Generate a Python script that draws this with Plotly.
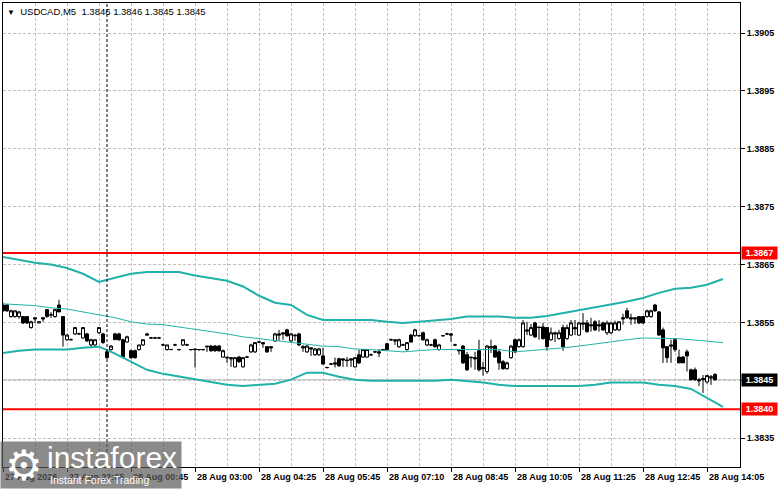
import plotly.graph_objects as go

# USDCAD M5 bars (bar index = position on chart)
opens = [
    1.38580, 1.38580, 1.38560, 1.38560, 1.38560, 1.38560, 1.38560, 1.38541, 1.38558, 1.38549,
    1.38558, 1.38572, 1.38563, 1.38560, 1.38580, 1.38560, 1.38520, 1.38520, 1.38530, 1.38530,
    1.38523, 1.38530, 1.38511, 1.38511, 1.38532, 1.38530, 1.38499, 1.38503, 1.38530, 1.38530,
    1.38520, 1.38516, 1.38501, 1.38501, 1.38503, 1.38511, 1.38530, 1.38523, 1.38523, 1.38523,
    1.38511, 1.38503, 1.38503, 1.38511, 1.38503, 1.38511, 1.38511, 1.38503, 1.38504, 1.38503,
    1.38503, 1.38509, 1.38509, 1.38509, 1.38509, 1.38490, 1.38490, 1.38489, 1.38473, 1.38490,
    1.38473, 1.38490, 1.38499, 1.38499, 1.38516, 1.38515, 1.38508, 1.38508, 1.38518, 1.38530,
    1.38532, 1.38537, 1.38518, 1.38528, 1.38530, 1.38508, 1.38499, 1.38506, 1.38494, 1.38494,
    1.38492, 1.38472, 1.38478, 1.38480, 1.38487, 1.38487, 1.38485, 1.38487, 1.38473, 1.38494,
    1.38490, 1.38490, 1.38494, 1.38499, 1.38499, 1.38503, 1.38513, 1.38520, 1.38520, 1.38508,
    1.38511, 1.38503, 1.38528, 1.38527, 1.38527, 1.38532, 1.38511, 1.38511, 1.38520, 1.38503,
    1.38527, 1.38530, 1.38530, 1.38511, 1.38503, 1.38509, 1.38494, 1.38490, 1.38489, 1.38501,
    1.38472, 1.38465, 1.38506, 1.38509, 1.38499, 1.38482, 1.38470, 1.38489, 1.38520, 1.38508,
    1.38508, 1.38537, 1.38528, 1.38549, 1.38542, 1.38542, 1.38541, 1.38520, 1.38532, 1.38522,
    1.38541, 1.38522, 1.38528, 1.38541, 1.38528, 1.38549, 1.38549, 1.38546, 1.38551, 1.38546,
    1.38549, 1.38532, 1.38532, 1.38537, 1.38537, 1.38558, 1.38570, 1.38558, 1.38558, 1.38560,
    1.38560, 1.38560, 1.38560, 1.38580, 1.38568, 1.38537, 1.38508, 1.38511, 1.38520, 1.38490,
    1.38490, 1.38499, 1.38468, 1.38468, 1.38451, 1.38453, 1.38447, 1.38456, 1.38460,
]
highs = [
    1.38584, 1.38582, 1.38572, 1.38570, 1.38570, 1.38561, 1.38560, 1.38553, 1.38558, 1.38551,
    1.38558, 1.38572, 1.38568, 1.38573, 1.38589, 1.38561, 1.38530, 1.38522, 1.38542, 1.38532,
    1.38542, 1.38532, 1.38522, 1.38520, 1.38542, 1.38532, 1.38503, 1.38511, 1.38532, 1.38532,
    1.38522, 1.38527, 1.38503, 1.38503, 1.38511, 1.38520, 1.38532, 1.38525, 1.38525, 1.38525,
    1.38513, 1.38511, 1.38504, 1.38513, 1.38504, 1.38520, 1.38513, 1.38504, 1.38504, 1.38504,
    1.38504, 1.38509, 1.38511, 1.38511, 1.38511, 1.38503, 1.38490, 1.38489, 1.38490, 1.38492,
    1.38490, 1.38492, 1.38513, 1.38516, 1.38518, 1.38515, 1.38509, 1.38508, 1.38532, 1.38537,
    1.38532, 1.38539, 1.38532, 1.38530, 1.38532, 1.38511, 1.38511, 1.38506, 1.38506, 1.38506,
    1.38506, 1.38473, 1.38480, 1.38489, 1.38489, 1.38487, 1.38490, 1.38487, 1.38490, 1.38503,
    1.38503, 1.38503, 1.38496, 1.38501, 1.38504, 1.38504, 1.38515, 1.38522, 1.38520, 1.38522,
    1.38513, 1.38516, 1.38530, 1.38539, 1.38528, 1.38534, 1.38522, 1.38513, 1.38522, 1.38513,
    1.38528, 1.38532, 1.38532, 1.38513, 1.38503, 1.38511, 1.38499, 1.38490, 1.38499, 1.38520,
    1.38482, 1.38511, 1.38520, 1.38511, 1.38503, 1.38485, 1.38482, 1.38511, 1.38522, 1.38522,
    1.38554, 1.38551, 1.38547, 1.38551, 1.38542, 1.38549, 1.38542, 1.38541, 1.38534, 1.38537,
    1.38546, 1.38546, 1.38554, 1.38554, 1.38551, 1.38566, 1.38554, 1.38558, 1.38554, 1.38554,
    1.38551, 1.38553, 1.38551, 1.38553, 1.38551, 1.38565, 1.38575, 1.38565, 1.38558, 1.38561,
    1.38561, 1.38572, 1.38572, 1.38582, 1.38570, 1.38541, 1.38509, 1.38520, 1.38523, 1.38503,
    1.38492, 1.38503, 1.38470, 1.38472, 1.38454, 1.38459, 1.38459, 1.38459, 1.38462,
]
lows = [
    1.38568, 1.38568, 1.38558, 1.38558, 1.38556, 1.38547, 1.38547, 1.38539, 1.38549, 1.38549,
    1.38551, 1.38558, 1.38558, 1.38558, 1.38568, 1.38508, 1.38518, 1.38520, 1.38528, 1.38530,
    1.38522, 1.38516, 1.38506, 1.38509, 1.38530, 1.38513, 1.38487, 1.38501, 1.38520, 1.38518,
    1.38489, 1.38515, 1.38487, 1.38487, 1.38501, 1.38509, 1.38528, 1.38522, 1.38522, 1.38522,
    1.38509, 1.38501, 1.38503, 1.38509, 1.38501, 1.38509, 1.38509, 1.38501, 1.38472, 1.38501,
    1.38501, 1.38499, 1.38499, 1.38499, 1.38499, 1.38489, 1.38480, 1.38473, 1.38472, 1.38480,
    1.38472, 1.38489, 1.38497, 1.38497, 1.38515, 1.38506, 1.38497, 1.38499, 1.38516, 1.38518,
    1.38520, 1.38525, 1.38516, 1.38518, 1.38509, 1.38499, 1.38497, 1.38492, 1.38492, 1.38492,
    1.38477, 1.38470, 1.38477, 1.38472, 1.38473, 1.38473, 1.38473, 1.38473, 1.38472, 1.38478,
    1.38489, 1.38489, 1.38492, 1.38497, 1.38490, 1.38501, 1.38501, 1.38518, 1.38511, 1.38506,
    1.38509, 1.38501, 1.38515, 1.38525, 1.38525, 1.38518, 1.38509, 1.38509, 1.38506, 1.38501,
    1.38525, 1.38528, 1.38516, 1.38509, 1.38494, 1.38478, 1.38466, 1.38472, 1.38468, 1.38465,
    1.38458, 1.38461, 1.38497, 1.38489, 1.38468, 1.38468, 1.38468, 1.38487, 1.38497, 1.38506,
    1.38506, 1.38528, 1.38527, 1.38523, 1.38520, 1.38520, 1.38501, 1.38518, 1.38516, 1.38520,
    1.38501, 1.38520, 1.38527, 1.38528, 1.38527, 1.38537, 1.38532, 1.38534, 1.38535, 1.38534,
    1.38535, 1.38528, 1.38530, 1.38535, 1.38535, 1.38546, 1.38556, 1.38546, 1.38547, 1.38547,
    1.38547, 1.38558, 1.38558, 1.38568, 1.38527, 1.38480, 1.38480, 1.38480, 1.38499, 1.38480,
    1.38480, 1.38465, 1.38449, 1.38449, 1.38440, 1.38428, 1.38444, 1.38442, 1.38449,
]
closes = [
    1.38570, 1.38570, 1.38570, 1.38570, 1.38568, 1.38549, 1.38549, 1.38551, 1.38556, 1.38551,
    1.38556, 1.38560, 1.38563, 1.38572, 1.38568, 1.38528, 1.38528, 1.38520, 1.38541, 1.38530,
    1.38541, 1.38518, 1.38520, 1.38520, 1.38541, 1.38515, 1.38489, 1.38509, 1.38520, 1.38520,
    1.38490, 1.38525, 1.38489, 1.38489, 1.38511, 1.38520, 1.38528, 1.38523, 1.38523, 1.38523,
    1.38511, 1.38511, 1.38503, 1.38511, 1.38503, 1.38520, 1.38511, 1.38503, 1.38503, 1.38503,
    1.38503, 1.38508, 1.38501, 1.38501, 1.38501, 1.38501, 1.38489, 1.38487, 1.38489, 1.38482,
    1.38489, 1.38490, 1.38511, 1.38515, 1.38516, 1.38513, 1.38499, 1.38506, 1.38530, 1.38528,
    1.38530, 1.38527, 1.38530, 1.38527, 1.38511, 1.38506, 1.38509, 1.38504, 1.38504, 1.38504,
    1.38478, 1.38472, 1.38478, 1.38478, 1.38475, 1.38485, 1.38484, 1.38485, 1.38489, 1.38480,
    1.38503, 1.38503, 1.38494, 1.38499, 1.38497, 1.38503, 1.38503, 1.38520, 1.38518, 1.38520,
    1.38511, 1.38515, 1.38516, 1.38537, 1.38527, 1.38520, 1.38520, 1.38511, 1.38508, 1.38511,
    1.38527, 1.38530, 1.38528, 1.38511, 1.38501, 1.38480, 1.38468, 1.38489, 1.38487, 1.38468,
    1.38470, 1.38509, 1.38508, 1.38490, 1.38480, 1.38470, 1.38480, 1.38509, 1.38499, 1.38520,
    1.38549, 1.38535, 1.38541, 1.38525, 1.38541, 1.38522, 1.38508, 1.38532, 1.38530, 1.38532,
    1.38508, 1.38541, 1.38549, 1.38539, 1.38549, 1.38547, 1.38534, 1.38544, 1.38537, 1.38544,
    1.38537, 1.38549, 1.38549, 1.38549, 1.38551, 1.38556, 1.38558, 1.38556, 1.38556, 1.38549,
    1.38549, 1.38570, 1.38570, 1.38570, 1.38528, 1.38506, 1.38489, 1.38509, 1.38503, 1.38480,
    1.38480, 1.38492, 1.38451, 1.38451, 1.38449, 1.38451, 1.38458, 1.38454, 1.38451,
]
bars = list(range(len(closes)))

# Bollinger bands, sampled every 4 bars
band_bars = list(range(0, 181, 4))
upper_band = [
    1.38663, 1.38658, 1.38653, 1.38650, 1.38644, 1.38634, 1.38620, 1.38627, 1.38634, 1.38637,
    1.38637, 1.38637, 1.38631, 1.38627, 1.38622, 1.38612, 1.38596, 1.38584, 1.38580, 1.38563,
    1.38554, 1.38554, 1.38554, 1.38554, 1.38551, 1.38549, 1.38551, 1.38553, 1.38556, 1.38560,
    1.38560, 1.38560, 1.38558, 1.38558, 1.38561, 1.38566, 1.38570, 1.38575, 1.38580, 1.38586,
    1.38592, 1.38601, 1.38608, 1.38610, 1.38615, 1.38625,
]
middle_band = [
    1.38582, 1.38580, 1.38579, 1.38575, 1.38573, 1.38568, 1.38563, 1.38558, 1.38551, 1.38547,
    1.38546, 1.38542, 1.38539, 1.38535, 1.38530, 1.38525, 1.38522, 1.38518, 1.38515, 1.38513,
    1.38509, 1.38508, 1.38504, 1.38503, 1.38501, 1.38499, 1.38501, 1.38503, 1.38503, 1.38503,
    1.38504, 1.38503, 1.38499, 1.38501, 1.38503, 1.38506, 1.38509, 1.38513, 1.38516, 1.38520,
    1.38523, 1.38523, 1.38522, 1.38520, 1.38518, 1.38515,
]
lower_band = [
    1.38497, 1.38501, 1.38503, 1.38503, 1.38503, 1.38506, 1.38508, 1.38496, 1.38482, 1.38468,
    1.38461, 1.38456, 1.38451, 1.38446, 1.38442, 1.38440, 1.38442, 1.38444, 1.38451, 1.38463,
    1.38463, 1.38456, 1.38451, 1.38449, 1.38449, 1.38449, 1.38449, 1.38449, 1.38451, 1.38449,
    1.38446, 1.38442, 1.38440, 1.38440, 1.38440, 1.38440, 1.38440, 1.38442, 1.38446, 1.38446,
    1.38446, 1.38442, 1.38440, 1.38435, 1.38419, 1.38404,
]

levels = [1.3867, 1.3840]
price_ticks = [1.3835, 1.3845, 1.3855, 1.3865, 1.3875, 1.3885, 1.3895, 1.3905]
time_ticks = [0, 16, 32, 48, 64, 80, 96, 112, 128, 144, 160, 176]
time_labels = ["27 Aug 2026", "27 Aug 22:05", "28 Aug 00:45", "28 Aug 03:00",
               "28 Aug 04:25", "28 Aug 05:45", "28 Aug 07:10", "28 Aug 08:45",
               "28 Aug 10:05", "28 Aug 11:25", "28 Aug 12:45", "28 Aug 14:05"]
separator_bar = 26

FONT = "Liberation Sans, Arial, sans-serif"
TEAL = "#20B2AA"
GRID = "#C0C0C0"

fig = go.Figure()

fig.add_trace(go.Candlestick(
    x=bars, open=opens, high=highs, low=lows, close=closes,
    increasing=dict(line=dict(color="black", width=1), fillcolor="white"),
    decreasing=dict(line=dict(color="black", width=1), fillcolor="black"),
    whiskerwidth=0, showlegend=False, hoverinfo="skip"))

for band, w in [(upper_band, 2), (middle_band, 1), (lower_band, 2)]:
    fig.add_trace(go.Scatter(x=band_bars, y=band, mode="lines",
                             line=dict(color=TEAL, width=w),
                             showlegend=False, hoverinfo="skip"))

# bid line, period separator, levels
fig.add_shape(type="line", xref="paper", x0=0, x1=1, y0=closes[-1], y1=closes[-1],
              line=dict(color=GRID, width=1), layer="below")
fig.add_shape(type="line", x0=separator_bar, x1=separator_bar, yref="paper", y0=0, y1=1,
              line=dict(color="black", width=1, dash="3px,2px"))
for lv in levels:
    fig.add_shape(type="line", xref="paper", x0=0, x1=1, y0=lv, y1=lv,
                  line=dict(color="#FF0000", width=2))

# time labels (left aligned at the tick like MT4)
for t, lab in zip(time_ticks, time_labels):
    fig.add_annotation(x=t, y=0, yref="paper", yshift=-10, xanchor="left", yanchor="middle",
                       xshift=0, text="<b>%s</b>" % lab, showarrow=False,
                       font=dict(family=FONT, size=9, color="black"))

# price boxes on the right scale
for val, bg in [(levels[0], "#FF0000"), (levels[1], "#FF0000"), (closes[-1], "black")]:
    fig.add_annotation(x=1, xref="paper", y=val, xanchor="left", yanchor="middle", xshift=1,
                       text="<b>%.4f</b>" % val, showarrow=False, bgcolor=bg, width=33,
                       height=10, borderpad=1, font=dict(family=FONT, size=9, color="white"))

fig.add_annotation(x=0, xref="paper", y=1, yref="paper", xanchor="left", yanchor="top",
                   xshift=2, yshift=-1, showarrow=False,
                   text="<span style='font-size:8px'>▼</span>\u00a0\u00a0USDCAD,M5\u00a0\u00a0"
                        "1.3846 1.3846 1.3845 1.3845",
                   font=dict(family=FONT, size=9.5, color="black"))

# watermark
fig.add_annotation(x=-3 / 737, xref="paper", y=-22 / 464, yref="paper",
                   xanchor="left", yanchor="bottom", text=" ", showarrow=False,
                   width=180, height=46, borderpad=0, bgcolor="rgba(90,90,90,0.7)")
fig.add_annotation(x=21 / 737, xref="paper", y=2 / 464, yref="paper",
                   xanchor="center", yanchor="middle", text="⚙", showarrow=False,
                   font=dict(family="DejaVu Sans", size=42, color="white"))
fig.add_annotation(x=42 / 737, xref="paper", y=10 / 464, yref="paper",
                   xanchor="left", yanchor="middle", text="instaforex", showarrow=False,
                   font=dict(family=FONT, size=30, color="white"))
fig.add_annotation(x=45 / 737, xref="paper", y=-13 / 464, yref="paper",
                   xanchor="left", yanchor="middle", text="Instant Forex Trading",
                   showarrow=False, font=dict(family=FONT, size=10.5, color="white"))

fig.update_layout(
    width=781, height=489,
    margin=dict(l=3, r=41, t=3, b=22),
    paper_bgcolor="white", plot_bgcolor="white",
    boxgap=0.25, boxgroupgap=0,
    hovermode=False, showlegend=False,
    xaxis=dict(range=[0, 184.25], tickvals=time_ticks, showticklabels=False,
               ticks="outside", ticklen=4, tickcolor="black",
               showgrid=True, gridcolor=GRID, griddash="3px,2px", gridwidth=1,
               minor=dict(tickvals=list(range(8, 185, 16)), showgrid=True,
                          gridcolor=GRID, griddash="3px,2px", ticks=""),
               showline=True, linecolor="black", linewidth=1, mirror=True,
               zeroline=False, rangeslider=dict(visible=False), fixedrange=True),
    yaxis=dict(range=[1.38300, 1.39102], side="right", tickvals=price_ticks,
               ticktext=["<b>%.4f</b>" % p for p in price_ticks],
               ticks="outside", ticklen=4, tickcolor="black",
               tickfont=dict(family=FONT, size=9, color="black"),
               showgrid=True, gridcolor=GRID, griddash="3px,2px", gridwidth=1,
               showline=True, linecolor="black", linewidth=1, mirror=True,
               zeroline=False, fixedrange=True),
)

fig.write_html("out.html", config={"displayModeBar": False},
               post_script="document.body.style.margin='0';")
